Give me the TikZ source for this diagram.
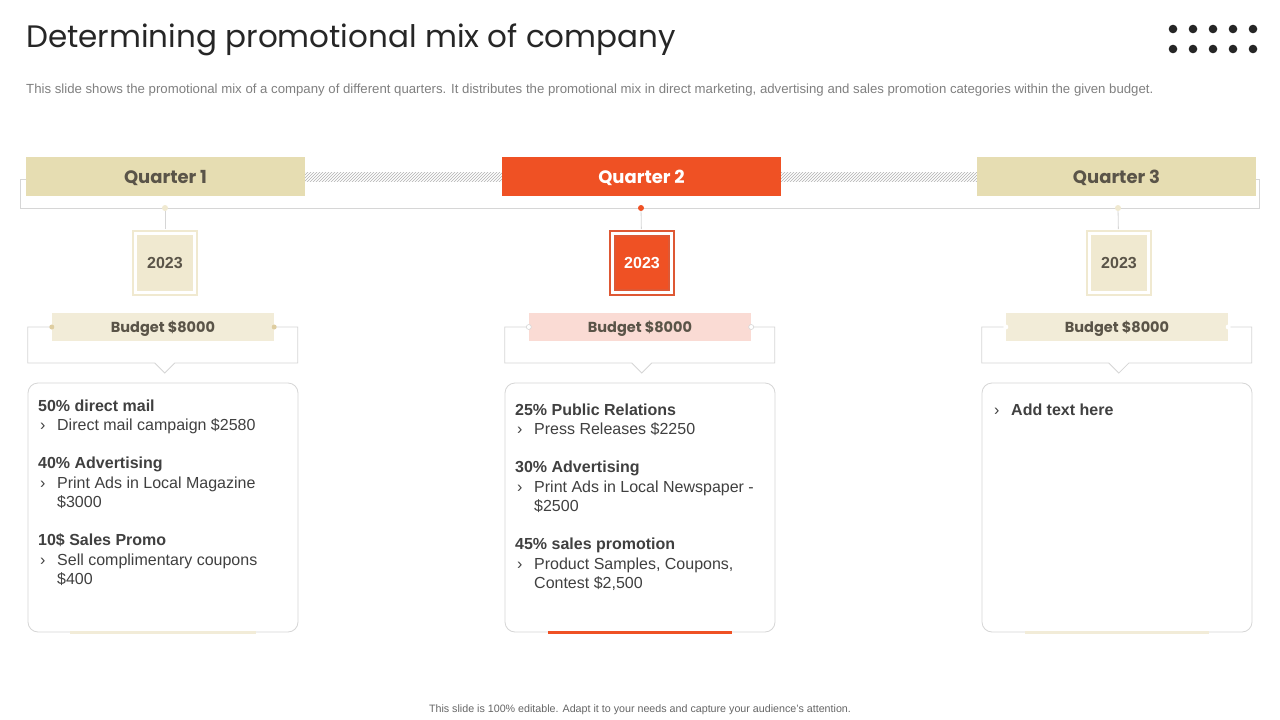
\documentclass[tikz,border=0pt]{standalone}
\usepackage{fontspec}
\setmainfont{Liberation Sans}
\newfontfamily\gothic{Poppins}
\usetikzlibrary{positioning,patterns}
\definecolor{qbeige}{RGB}{230,221,178}
\definecolor{qorange}{RGB}{239,81,36}
\definecolor{rorange}{RGB}{222,88,52}
\definecolor{ybeige}{RGB}{242,236,216}
\definecolor{yring}{RGB}{240,233,208}
\definecolor{bpink}{RGB}{250,219,212}
\definecolor{pindot}{RGB}{222,205,160}
\definecolor{lgray}{RGB}{214,214,214}
\definecolor{qtext}{RGB}{90,84,72}
\definecolor{txt}{RGB}{64,64,64}
\newcommand{\bul}{\hspace*{2pt}\makebox[17pt][l]{›}}
\newcommand{\ind}{\hspace*{19pt}}
\tikzset{
  quarter/.style={minimum width=279pt, minimum height=39pt, inner sep=0pt, fill=qbeige, text=qtext,
    text depth=0pt, font=\gothic\bfseries\fontsize{18}{18}\selectfont},
  yearbox/.style={minimum size=59pt, inner sep=0pt, line width=2pt, double=white, double distance=3pt,
    draw=yring, fill=yring, text=qtext, font=\bfseries\fontsize{16}{16}\selectfont},
  budget/.style={minimum width=222pt, minimum height=28pt, inner sep=0pt, fill=ybeige, text=qtext,
    text depth=0pt, font=\gothic\bfseries\fontsize{14.5}{14.5}\selectfont},
  card/.style={draw=lgray, rounded corners=10pt, minimum width=270pt, minimum height=249pt, line width=0.8pt},
  cardtext/.style={anchor=north west, inner sep=0pt, align=left, text=txt, font=\fontsize{16}{19.3}\selectfont},
  pin/.style={circle, inner sep=0pt, minimum size=5pt},
  rule/.style={draw=lgray, line width=0.8pt},
}

\begin{document}
\begin{tikzpicture}[x=1pt,y=-1pt]
  \useasboundingbox[fill=white] (0,0) rectangle (1280,720);
  % heading
  \node[anchor=base west, inner sep=0pt, text=black!85, font=\gothic\fontsize{31}{31}\selectfont] (title) at (26,47) {Determining promotional mix of company};
  \node[anchor=base west, inner sep=0pt, text=black!50, font=\fontsize{13.2}{13.2}\selectfont] (sub) at (26,93) {This slide shows the promotional mix of a company of different quarters. It distributes the promotional mix in direct marketing, advertising and sales promotion categories within the given budget.};
  \foreach \i in {0,...,4}{
    \fill[black!85] (1173+20*\i,29) circle (4.3pt);
    \fill[black!85] (1173+20*\i,49) circle (4.3pt);
  }
  % timeline
  \fill[pattern=north east lines, pattern color=black!30] (305,172) rectangle (977,181);
  \draw[rule] (26,179) -- (20,179) -- (20,208) -- (1259,208) -- (1259,179) -- (1256,179);
  \node[quarter] (q1) at (165.5,176.5) {Quarter 1};
  \node[quarter, fill=qorange, text=white] (q2) at (641.5,176.5) {Quarter 2};
  \node[quarter] (q3) at (1116.5,176.5) {Quarter 3};
  \node[pin, fill=yring, minimum size=6pt] (p1) at (165,208) {};
  \node[pin, fill=qorange, minimum size=6pt] (p2) at (641,208) {};
  \node[pin, fill=yring, minimum size=6pt] (p3) at (1118,208) {};
  % years
  \node[yearbox] (y1) at (165,263) {2023};
  \node[yearbox, draw=rorange, fill=qorange, text=white] (y2) at (642,263) {2023};
  \node[yearbox] (y3) at (1119,263) {2023};
  \draw[rule, shorten >=3.5pt] (p1) -- (y1);
  \draw[rule, shorten >=3.5pt] (p2) -- (y2);
  \draw[rule, shorten >=3.5pt] (p3) -- (y3);
  % budgets
  \node[budget] (b1) at (163,327) {Budget \$8000};
  \node[budget, fill=bpink] (b2) at (640,327) {Budget \$8000};
  \node[budget] (b3) at (1117,327) {Budget \$8000};
  \foreach \b in {b1,b2,b3}
    \draw[rule] (\b.west) -- ++(-24,0) -- ++(0,36) -- ++(127,0) -- ++(10,10) -- ++(10,-10) -- ++(123,0) -- ++(0,-36) -- (\b.east);
  \node[pin, fill=pindot] (bl1) at (b1.west) {};
  \node[pin, fill=pindot] (br1) at (b1.east) {};
  \node[pin, fill=white, draw=lgray, line width=0.6pt] (bl2) at (b2.west) {};
  \node[pin, fill=white, draw=lgray, line width=0.6pt] (br2) at (b2.east) {};
  \node[pin, fill=white] (bl3) at (b3.west) {};
  \node[pin, fill=white] (br3) at (b3.east) {};
  % cards
  \node[card] (c1) at (163,507.5) {};
  \node[card] (c2) at (640,507.5) {};
  \node[card] (c3) at (1117,507.5) {};
  \draw[line width=3pt, ybeige] ([xshift=-93pt]c1.south) -- ([xshift=93pt]c1.south);
  \draw[line width=3.5pt, qorange] ([xshift=-92pt]c2.south) -- ([xshift=92pt]c2.south);
  \draw[line width=3pt, ybeige] ([xshift=-92pt]c3.south) -- ([xshift=92pt]c3.south);
  \node[cardtext] (t1) at (38,399.5) {\textbf{50\% direct mail}\\
    \bul Direct mail campaign \$2580\\[19pt]
    \textbf{40\% Advertising}\\
    \bul Print Ads in Local Magazine\\
    \ind \$3000\\[19pt]
    \textbf{10\$ Sales Promo}\\
    \bul Sell complimentary coupons\\
    \ind \$400};
  \node[cardtext] (t2) at (515,403.5) {\textbf{25\% Public Relations}\\
    \bul Press Releases \$2250\\[19pt]
    \textbf{30\% Advertising}\\
    \bul Print Ads in Local Newspaper -\\
    \ind \$2500\\[19pt]
    \textbf{45\% sales promotion}\\
    \bul Product Samples, Coupons,\\
    \ind Contest \$2,500};
  \node[cardtext] (t3) at (992,403.5) {\bul\textbf{Add text here}};
  % footer
  \node[anchor=base, inner sep=0pt, text=black!60, font=\fontsize{10.7}{10.7}\selectfont] (foot) at (640,712) {This slide is 100\% editable. Adapt it to your needs and capture your audience's attention.};
\end{tikzpicture}
\end{document}
